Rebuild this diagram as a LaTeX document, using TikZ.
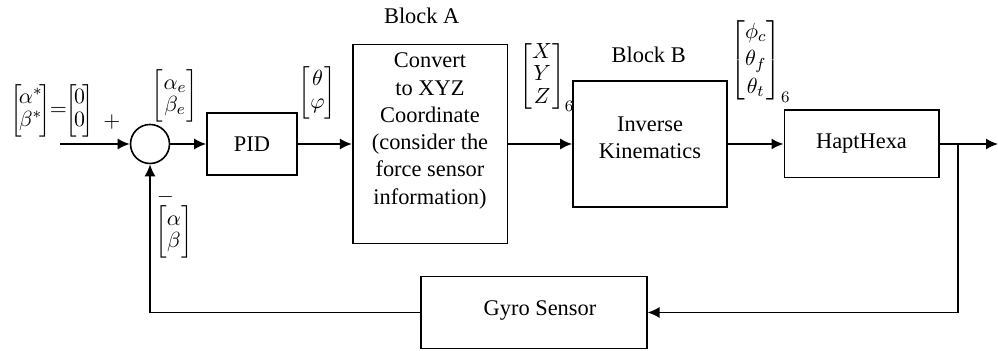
\documentclass[tikz,border=0pt]{standalone}
\usepackage{amsmath}
\usepackage{fontspec}
\setmainfont{Liberation Serif}
\usetikzlibrary{arrows.meta}
\newcommand{\tightmat}[1]{\left[\mkern-2.5mu\renewcommand{\arraystretch}{0.82}\begin{matrix}#1\end{matrix}\mkern-2.5mu\right]}
\begin{document}
\begin{tikzpicture}[x=0.5pt,y=-0.5pt,
  every node/.style={font=\fontsize{11.2}{13.65}\selectfont, inner sep=0pt},
  blk/.style={draw, line width=0.8pt, align=center},
  arr/.style={-{Latex[length=6pt,width=5.5pt]}, line width=0.8pt},
  ln/.style={line width=0.8pt}]
\useasboundingbox (0,0) rectangle (998,351);

% blocks
\node[draw, circle, line width=0.8pt, minimum size=19.5pt] (sum) at (150,144) {};
\node[blk, minimum width=45pt, minimum height=31pt] (pid) at (252,144) {PID};
\node[blk, minimum width=77.3pt, minimum height=99.5pt] (A) at (430,144) {};
\node[align=center] (Atext) at (430,131) {Convert\\to XYZ\\Coordinate\\(consider the\\force sensor\\information)};
\node[blk, minimum width=77pt, minimum height=63pt] (B) at (650,144) {};
\node[align=center] (Btext) at (650,138) {Inverse\\Kinematics};
\node[blk, minimum width=77.2pt, minimum height=33.7pt] (H) at (861.5,144) {HaptHexa};
\node[blk, minimum width=113pt, minimum height=35.9pt] (G) at (533.7,312.5) {};
\node (Gtext) at (540,311) {Gyro Sensor};

% labels
\node (blockA) at (421.7,16) {Block A};
\node (blockB) at (648.7,55) {Block B};
\node[anchor=west] (inlab) at (10,110.5) {$\tightmat{\alpha^*\\ \beta^*}\mkern-4mu{=}\mkern-4mu\tightmat{0\\ 0}$};
\node (plus) at (112,122) {$+$};
\node (elab) at (175,96) {$\renewcommand{\arraystretch}{0.82}\begin{bmatrix}\alpha_e\\ \beta_e\end{bmatrix}$};
\node[anchor=base, text depth=0pt] (minus) at (165.5,203) {$-$};
\node (fblab) at (174,232) {$\renewcommand{\arraystretch}{0.82}\begin{bmatrix}\alpha\\ \beta\end{bmatrix}$};
\node (thlab) at (317.5,92.5) {$\renewcommand{\arraystretch}{0.82}\begin{bmatrix}\theta\\ \varphi\end{bmatrix}$};
\node[anchor=west] (xyzlab) at (519,77) {$\renewcommand{\arraystretch}{0.82}\begin{bmatrix}X\\ Y\\ Z\end{bmatrix}_6$};
\node[anchor=west] (anglab) at (730,61) {$\renewcommand{\arraystretch}{1.0}\begin{bmatrix}\phi_c\\ \theta_f\\ \theta_t\end{bmatrix}_6$};

% connectors
\coordinate (in) at (60,144);
\coordinate (out) at (998,144);
\coordinate (br) at (957.7,144);
\coordinate (brd) at (957.7,312.5);
\coordinate (fbl) at (150,312.5);
\draw[arr] (in) -- (sum.west);
\draw[arr] (sum.east) -- (pid.west);
\draw[arr] (pid.east) -- (A.west);
\draw[arr] (A.east) -- (B.west);
\draw[arr] (B.east) -- (H.west);
\draw[arr] (H.east) -- (out);
\draw[arr] (br) -- (brd) -- (G.east);
\draw[arr] (G.west) -- (fbl) -- (sum.south);
\end{tikzpicture}
\end{document}
